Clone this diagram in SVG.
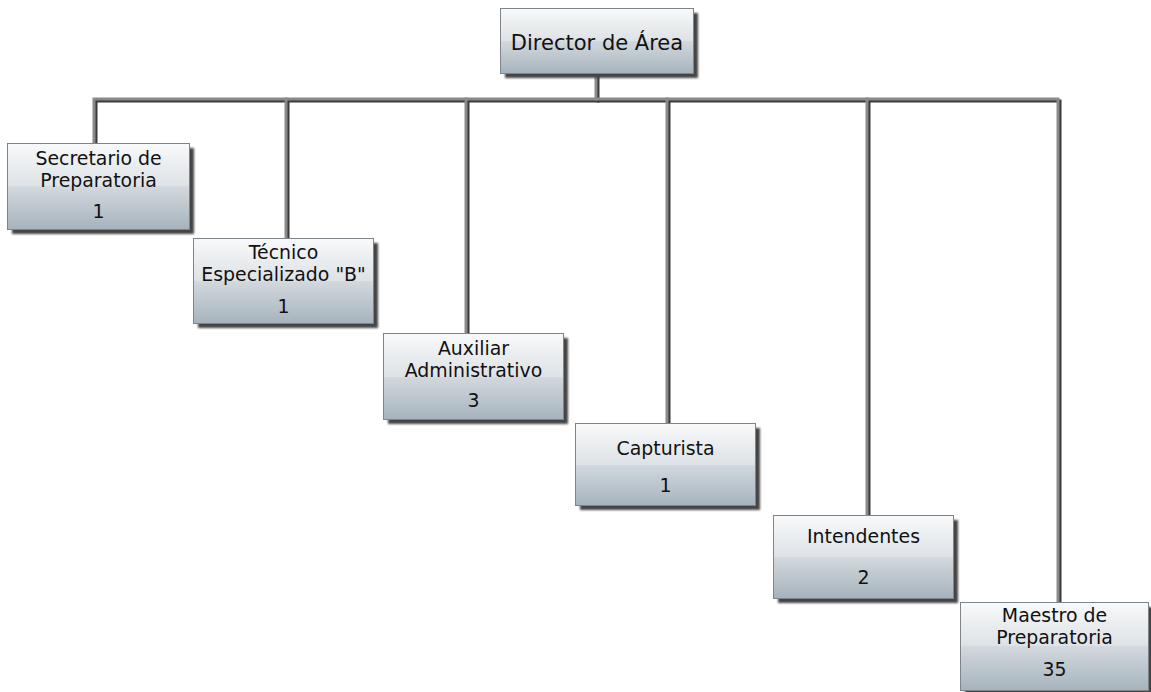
<svg xmlns="http://www.w3.org/2000/svg" width="1151" height="692" viewBox="0 0 1151 692">
  <defs>
    <linearGradient id="glass" x1="0" y1="0" x2="0" y2="1">
      <stop offset="0" stop-color="#f8f9fa"/>
      <stop offset="0.5" stop-color="#dde2e6"/>
      <stop offset="0.5" stop-color="#d3d9de"/>
      <stop offset="1" stop-color="#a6b3bc"/>
    </linearGradient>
    <filter id="soft" x="-10%" y="-10%" width="120%" height="120%">
      <feGaussianBlur stdDeviation="0.8"/>
    </filter>
  </defs>
  <style>
    .shadow { fill: #444444; filter: url(#soft); }
    .box { fill: url(#glass); stroke: #7d858b; stroke-width: 1; }
    .label { font-family: "DejaVu Sans", Verdana, sans-serif; font-size: 18.9px; fill: #111111; text-anchor: middle; }
    .title { font-size: 21px; }
    .wire { fill: none; stroke: #8a8a8a; stroke-width: 3; stroke-linecap: square; }
    .wire-shade { fill: none; stroke: #3a3a3a; stroke-width: 3; stroke-linecap: square; }
  </style>

  <rect width="1151" height="692" fill="#ffffff"/>

  <!-- connectors -->
  <g id="connectors">
    <g class="wire-shade" transform="translate(2,2)">
      <path d="M596 74 V99"/>
      <path d="M94 142 V99 H1058 V601"/>
      <path d="M286 99 V237"/>
      <path d="M466 99 V332"/>
      <path d="M667 99 V422"/>
      <path d="M867 99 V514"/>
    </g>
    <g class="wire">
      <path d="M596 74 V99"/>
      <path d="M94 142 V99 H1058 V601"/>
      <path d="M286 99 V237"/>
      <path d="M466 99 V332"/>
      <path d="M667 99 V422"/>
      <path d="M867 99 V514"/>
    </g>
  </g>

  <!-- nodes -->
  <g id="director">
    <rect class="shadow" x="505" y="13" width="193" height="65"/>
    <rect class="box" x="500.5" y="8.5" width="193" height="65"/>
    <text class="label title" x="597" y="50">Director de Área</text>
  </g>

  <g id="secretario">
    <rect class="shadow" x="12" y="148" width="182" height="86"/>
    <rect class="box" x="7.5" y="143.5" width="182" height="86"/>
    <text class="label" x="98.5" y="165">Secretario de</text>
    <text class="label" x="98.5" y="187">Preparatoria</text>
    <text class="label" x="98.5" y="218">1</text>
  </g>

  <g id="tecnico">
    <rect class="shadow" x="198" y="243" width="180" height="85"/>
    <rect class="box" x="193.5" y="238.5" width="180" height="85"/>
    <text class="label" x="283.5" y="259">Técnico</text>
    <text class="label" x="283.5" y="281">Especializado "B"</text>
    <text class="label" x="283.5" y="313">1</text>
  </g>

  <g id="auxiliar">
    <rect class="shadow" x="388" y="338" width="180" height="86"/>
    <rect class="box" x="383.5" y="333.5" width="180" height="86"/>
    <text class="label" x="473.5" y="355">Auxiliar</text>
    <text class="label" x="473.5" y="377">Administrativo</text>
    <text class="label" x="473.5" y="407">3</text>
  </g>

  <g id="capturista">
    <rect class="shadow" x="580" y="428" width="180" height="82"/>
    <rect class="box" x="575.5" y="423.5" width="180" height="82"/>
    <text class="label" x="665.5" y="455">Capturista</text>
    <text class="label" x="665.5" y="492">1</text>
  </g>

  <g id="intendentes">
    <rect class="shadow" x="778" y="520" width="180" height="83"/>
    <rect class="box" x="773.5" y="515.5" width="180" height="83"/>
    <text class="label" x="863.5" y="543">Intendentes</text>
    <text class="label" x="863.5" y="584">2</text>
  </g>

  <g id="maestro">
    <rect class="shadow" x="965" y="607" width="188" height="88"/>
    <rect class="box" x="960.5" y="602.5" width="188" height="88"/>
    <text class="label" x="1054.5" y="622">Maestro de</text>
    <text class="label" x="1054.5" y="644">Preparatoria</text>
    <text class="label" x="1054.5" y="676">35</text>
  </g>
</svg>
